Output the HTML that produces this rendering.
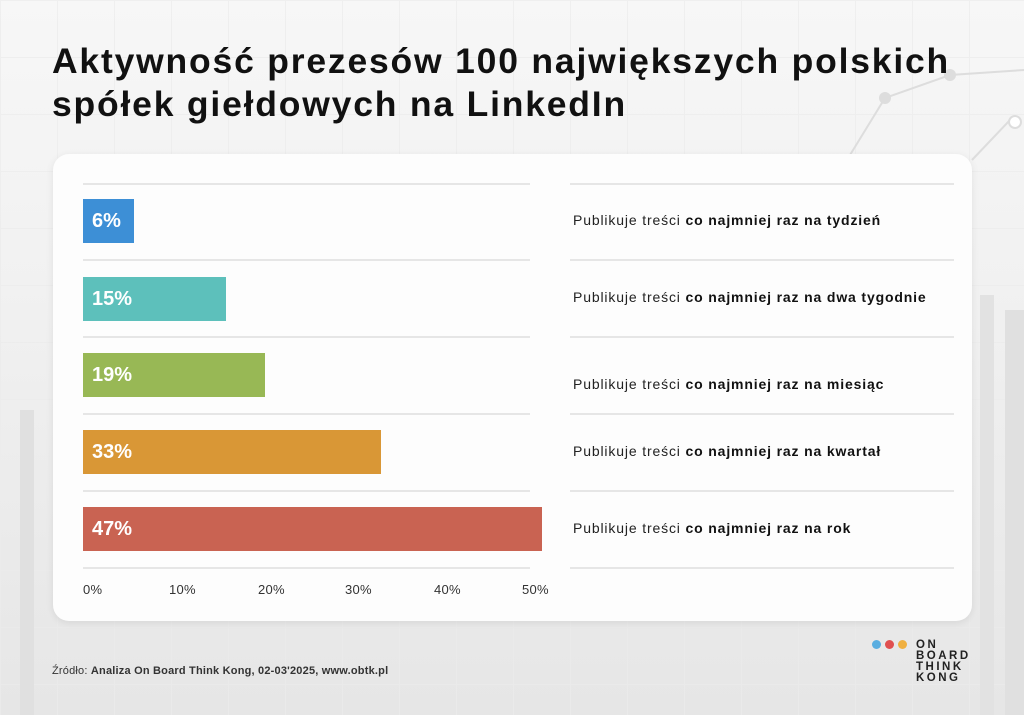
<!DOCTYPE html>
<html><head><meta charset="utf-8"><style>
*{margin:0;padding:0;box-sizing:border-box}
body{width:1024px;height:715px;overflow:hidden;position:relative;font-family:"Liberation Sans",sans-serif;
background:linear-gradient(180deg,#f7f7f7 0%,#f1f1f1 40%,#e6e6e6 100%);}
.grid{position:absolute;inset:0;background-image:linear-gradient(#ececec 1px,transparent 1px),linear-gradient(90deg,#ececec 1px,transparent 1px);background-size:57px 57px;opacity:.7}
h1{position:absolute;left:52px;top:40px;font-size:35.5px;line-height:43px;font-weight:bold;color:#111;letter-spacing:1.8px}
.card{position:absolute;left:53px;top:154px;width:919px;height:467px;background:#fdfdfd;border-radius:16px;box-shadow:0 2px 8px rgba(0,0,0,.08)}
.l{position:absolute;height:2px;background:#e6e6e6}
.bar{position:absolute;left:83px;height:44px;color:#fff;font-weight:bold;font-size:20px;line-height:44px;padding-left:9px}
.t{position:absolute;left:573px;font-size:14px;color:#222;letter-spacing:0.85px}
.t b{color:#111}
.ax{position:absolute;top:582px;font-size:13px;color:#333;letter-spacing:0.3px}
.src{position:absolute;left:52px;top:665px;font-size:11px;color:#333;letter-spacing:0.2px}
.logo{position:absolute;left:916px;top:640px;font-weight:bold;font-size:11.5px;line-height:11px;letter-spacing:2.5px;color:#222}
.dot{position:absolute;top:640px;width:9px;height:9px;border-radius:50%}
</style></head><body>
<div class="grid"></div>
<svg style="position:absolute;left:0;top:0" width="1024" height="715">
<polyline points="850,155 885,98 950,75 1024,70" fill="none" stroke="#ddd" stroke-width="2"/>
<circle cx="885" cy="98" r="6" fill="#ddd"/><circle cx="950" cy="75" r="6" fill="#ddd"/>
<polyline points="972,160 1010,120" fill="none" stroke="#ddd" stroke-width="2"/>
<circle cx="1015" cy="122" r="6" fill="#fff" stroke="#ddd" stroke-width="2"/>
<rect x="980" y="295" width="14" height="420" fill="#e2e2e2"/>
<rect x="1005" y="310" width="19" height="405" fill="#e0e0e0"/>
<rect x="20" y="410" width="14" height="305" fill="#e0e0e0"/>
</svg>
<h1>Aktywność prezesów 100 największych polskich<br>spółek giełdowych na LinkedIn</h1>
<div class="card"></div>
<div class="l" style="left:83px;width:447px;top:183px"></div>
<div class="l" style="left:83px;width:447px;top:259px"></div>
<div class="l" style="left:83px;width:447px;top:336px"></div>
<div class="l" style="left:83px;width:447px;top:413px"></div>
<div class="l" style="left:83px;width:447px;top:490px"></div>
<div class="l" style="left:83px;width:447px;top:567px"></div>
<div class="l" style="left:570px;width:384px;top:183px"></div>
<div class="l" style="left:570px;width:384px;top:259px"></div>
<div class="l" style="left:570px;width:384px;top:336px"></div>
<div class="l" style="left:570px;width:384px;top:413px"></div>
<div class="l" style="left:570px;width:384px;top:490px"></div>
<div class="l" style="left:570px;width:384px;top:567px"></div>
<div class="bar" style="top:199px;width:51px;background:#3d8fd6">6%</div>
<div class="bar" style="top:277px;width:143px;background:#5dc0bb">15%</div>
<div class="bar" style="top:353px;width:182px;background:#98b855">19%</div>
<div class="bar" style="top:430px;width:298px;background:#d99736">33%</div>
<div class="bar" style="top:507px;width:459px;background:#c96352">47%</div>
<div class="t" style="top:212px">Publikuje treści <b>co najmniej raz na tydzień</b></div>
<div class="t" style="top:289px">Publikuje treści <b>co najmniej raz na dwa tygodnie</b></div>
<div class="t" style="top:376px">Publikuje treści <b>co najmniej raz na miesiąc</b></div>
<div class="t" style="top:443px">Publikuje treści <b>co najmniej raz na kwartał</b></div>
<div class="t" style="top:520px">Publikuje treści <b>co najmniej raz na rok</b></div>
<div class="ax" style="left:83px">0%</div>
<div class="ax" style="left:169px">10%</div>
<div class="ax" style="left:258px">20%</div>
<div class="ax" style="left:345px">30%</div>
<div class="ax" style="left:434px">40%</div>
<div class="ax" style="left:522px">50%</div>
<div class="src">Źródło: <b>Analiza On Board Think Kong, 02-03'2025, www.obtk.pl</b></div>
<div class="dot" style="left:872px;background:#5aaee0"></div>
<div class="dot" style="left:885px;background:#e05050"></div>
<div class="dot" style="left:898px;background:#f0b040"></div>
<div class="logo">ON<br>BOARD<br>THINK<br>KONG</div>
</body></html>
